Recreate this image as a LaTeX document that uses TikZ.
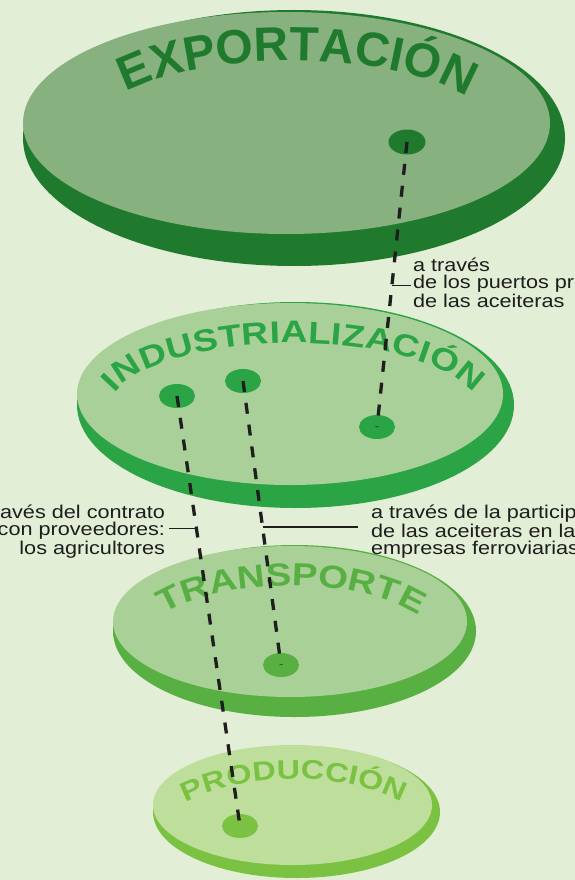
\documentclass[tikz,border=0pt]{standalone}
\usepackage{fontspec}
\setmainfont{Liberation Sans}[FakeStretch=1.17]
\newfontfamily\arcfont{Liberation Sans}
\newfontfamily\arcwidefont{Liberation Sans}[FakeStretch=1.2]
\usetikzlibrary{shapes.geometric,decorations.text,calc}
\definecolor{bg}{HTML}{E2EED5}
\definecolor{eface}{HTML}{88B180}
\definecolor{edark}{HTML}{207A2E}
\definecolor{iface}{HTML}{A9D098}
\definecolor{idark}{HTML}{2BA446}
\definecolor{tface}{HTML}{A9D097}
\definecolor{tdark}{HTML}{58AF42}
\definecolor{pface}{HTML}{BEDE9C}
\definecolor{pdark}{HTML}{7CC242}
\definecolor{ink}{HTML}{1E1E1E}
\tikzset{
  disk/.style={ellipse, inner sep=0pt, outer sep=0pt, draw=none},
  spot/.style={ellipse, inner sep=0pt, outer sep=0pt, minimum width=36pt, minimum height=24pt},
  link/.style={ink, line width=3.3pt, dash pattern=on 11pt off 11pt},
  conn/.style={ink, line width=1.1pt},
  lbl/.style={inner sep=0pt, outer sep=0pt, text=ink, font=\fontsize{18.5}{17}\selectfont},
  arctext/.style n args={4}{decorate, decoration={text along path,
     text={|#1\bfseries\fontsize{#2}{#2}\selectfont\color{#3}|#4},
     text align={fit to path}}}
}
\begin{document}
\begin{tikzpicture}[x=1pt,y=-1pt]
\path[use as bounding box, fill=bg] (0,0) rectangle (575,880);
\clip (0,0) rectangle (575,880);

% EXPORTACION
\node[disk, fill=edark, minimum width=542pt, minimum height=256pt] (eBase) at (294,138) {};
\node[disk, fill=eface, minimum width=527pt, minimum height=222pt] (eTop) at (286.5,123) {};
\node[spot, fill=edark, minimum width=37pt, minimum height=25pt] (dotE) at (407,142) {};
\coordinate (eArc) at ($(292,127)+(148:196pt and 66pt)$);
\path[arctext={\arcfont}{48}{edark}{EXPORTACIÓN}] (eArc) arc[start angle=148, end angle=32, x radius=196pt, y radius=66pt];

% INDUSTRIALIZACION
\node[disk, fill=idark, minimum width=437pt, minimum height=206pt] (iBase) at (295.5,405) {};
\node[disk, fill=iface, minimum width=426pt, minimum height=182pt] (iTop) at (290,394) {};
\node[spot, fill=idark] (dotI1) at (177,396) {};
\node[spot, fill=idark] (dotI2) at (243,381) {};
\node[spot, fill=idark] (dotI3) at (377,427) {};
\coordinate (iArc) at ($(294,412.5)+(164:187pt and 69.5pt)$);
\path[arctext={\arcwidefont}{31}{idark}{INDUSTRIALIZACIÓN}] (iArc) arc[start angle=164, end angle=16, x radius=187pt, y radius=69.5pt];

% TRANSPORTE
\node[disk, fill=tdark, minimum width=363pt, minimum height=172pt] (tBase) at (294.5,631) {};
\node[disk, fill=tface, minimum width=354pt, minimum height=151pt] (tTop) at (290,621.5) {};
\node[spot, fill=tdark] (dotT) at (281,665) {};
\coordinate (tArc) at ($(290,650)+(146:152pt and 64.4pt)$);
\path[arctext={\arcwidefont}{32}{tdark}{TRANSPORTE}] (tArc) arc[start angle=146, end angle=34, x radius=152pt, y radius=64.4pt];

% PRODUCCION
\node[disk, fill=pdark, minimum width=287pt, minimum height=132pt] (pBase) at (296.5,812) {};
\node[disk, fill=pface, minimum width=279pt, minimum height=120pt] (pTop) at (292.5,805) {};
\node[spot, fill=pdark] (dotP) at (240,826) {};
\coordinate (pArc) at ($(294,859)+(135:153pt and 80pt)$);
\path[arctext={\arcwidefont}{27}{pdark}{PRODUCCIÓN}] (pArc) arc[start angle=135, end angle=45, x radius=153pt, y radius=80pt];

% dashed links
\draw[link] (dotE.center) -- (dotI3.center);
\draw[link] (dotI1.center) -- (dotP.center);
\draw[link] (dotI2.center) -- (dotT.center);

% labels (base anchor = baseline of the last line)
\node[lbl, anchor=base west, align=left] (lblPuertos) at (413,307)
  {a través\\de los puertos propios\\de las aceiteras};
\node[lbl, anchor=base east, align=right] (lblContrato) at (165,554)
  {a través del contrato\\con proveedores:\\los agricultores};
\node[lbl, anchor=base west, align=left] (lblFerro) at (371,554)
  {a través de la participación\\de las aceiteras en las\\empresas ferroviarias};

\coordinate (cC) at ($(dotE.center)!0.502!(dotI3.center)$);
\coordinate (cA) at ($(dotI1.center)!0.309!(dotP.center)$);
\coordinate (cB) at ($(dotI2.center)!0.514!(dotT.center)$);
\draw[conn] (cC) -- ([xshift=-2pt]lblPuertos.west |- cC);
\draw[conn] ([xshift=4pt]lblContrato.east |- cA) -- (cA);
\draw[conn] (cB) -- ([xshift=-13pt]lblFerro.west |- cB);
\end{tikzpicture}
\end{document}
